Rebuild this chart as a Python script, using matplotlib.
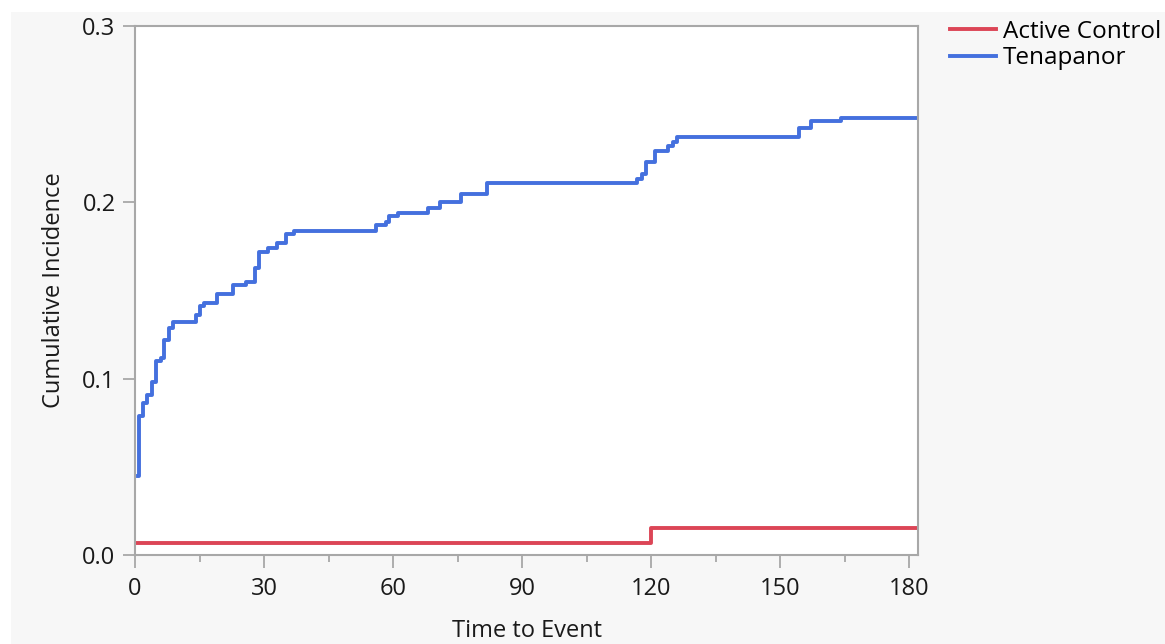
import matplotlib.pyplot as plt
from matplotlib.patches import Rectangle
from matplotlib.lines import Line2D
from matplotlib.ticker import MultipleLocator, FormatStrFormatter

# Kumulative Inzidenz je Behandlungsgruppe (Stufenfunktion)
tena_time = [0.8, 0.9, 1.8, 2.9, 3.9, 4.9, 6.0, 6.8, 8.0, 8.9, 14.2, 15.1, 16.0,
             19.1, 22.7, 25.8, 27.9, 28.8, 31.0, 33.0, 35.0, 37.0, 56.0, 58.3,
             59.1, 61.2, 68.2, 70.8, 75.8, 81.9, 116.8, 117.9, 118.8, 120.9,
             124.0, 125.0, 126.0, 154.3, 157.1, 164.0, 182.0]
tena_ci = [0.045, 0.079, 0.086, 0.091, 0.098, 0.110, 0.112, 0.122, 0.129, 0.132,
           0.136, 0.141, 0.143, 0.148, 0.153, 0.155, 0.163, 0.172, 0.174, 0.177,
           0.182, 0.184, 0.187, 0.189, 0.192, 0.194, 0.197, 0.200, 0.205, 0.211,
           0.213, 0.216, 0.223, 0.229, 0.232, 0.234, 0.237, 0.242, 0.246, 0.248,
           0.248]

ctrl_time = [0.0, 120.0, 182.0]
ctrl_ci = [0.0068, 0.0155, 0.0155]

groups = ["Active Control", "Tenapanor"]
colors = {"Active Control": "#DC4556", "Tenapanor": "#4470DE"}

plt.rcParams['font.family'] = ['Open Sans', 'DejaVu Sans']
plt.rcParams['font.size'] = 17

fig = plt.figure(figsize=(11.65, 6.44), dpi=100)
fig.patch.set_facecolor('white')
# grauer Hintergrund wie im Berichtsfenster
bg = Rectangle((11 / 1165, 0), 1, 1 - 12 / 644, transform=fig.transFigure,
               facecolor='#f7f7f7', edgecolor='none', zorder=-10)
fig.add_artist(bg)

ax = fig.add_axes([135 / 1165, 1 - 555 / 644, (918 - 135) / 1165, (555 - 26) / 644])
ax.set_zorder(1)
ax.set_facecolor('white')

ax.step(ctrl_time, ctrl_ci, where='post', color=colors["Active Control"], lw=2.8)
ax.step(tena_time, tena_ci, where='post', color=colors["Tenapanor"], lw=2.8)

ax.set_xlim(0, 182)
ax.set_ylim(0, 0.3)
ax.xaxis.set_major_locator(MultipleLocator(30))
ax.xaxis.set_minor_locator(MultipleLocator(15))
ax.yaxis.set_major_locator(MultipleLocator(0.1))
ax.yaxis.set_major_formatter(FormatStrFormatter('%.1f'))

for s in ax.spines.values():
    s.set_color('#a8a8a8')
    s.set_linewidth(1.5)
ax.tick_params(axis='both', which='major', direction='out', length=9, width=1.3,
               color='#a8a8a8', labelsize=17, labelcolor='#1a1a1a', pad=5)
ax.tick_params(axis='x', which='major', pad=7)
ax.tick_params(axis='x', which='minor', direction='out', length=5, width=1.3,
               color='#a8a8a8')

ax.set_xlabel("Time to Event", fontsize=17, color='#1a1a1a', labelpad=13)
ax.set_ylabel("Cumulative Incidence", fontsize=17, color='#1a1a1a', labelpad=12)

# Legende rechts oben
handles = [Line2D([0], [0], color=colors[g], lw=2.8) for g in groups]
leg = fig.legend(handles, groups, loc='upper left', bbox_to_anchor=(940 / 1165, 1 - 10 / 644),
                 frameon=False, fontsize=17.5, handlelength=1.9, handletextpad=0.3,
                 labelspacing=0.1, borderaxespad=0)
leg.set_zorder(2)

fig.savefig("out.png", dpi=100)
